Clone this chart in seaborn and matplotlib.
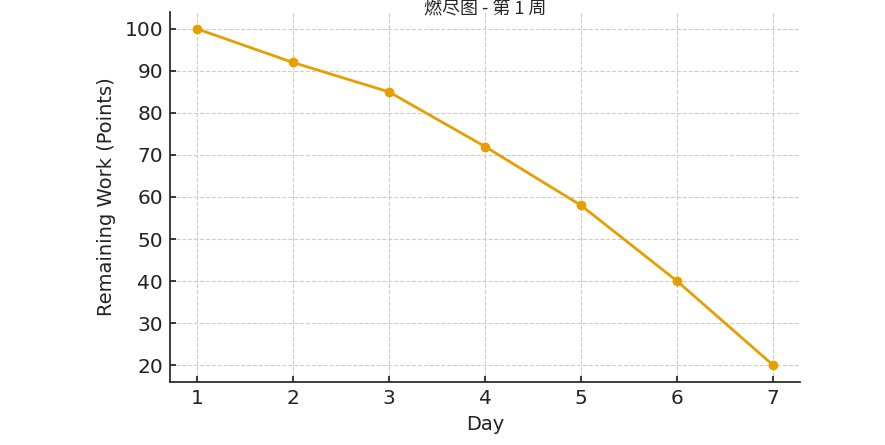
import seaborn as sns
import pandas as pd
import matplotlib.pyplot as plt

# burndown data
days = [1, 2, 3, 4, 5, 6, 7]
remaining = [100, 92, 85, 72, 58, 40, 20]
title = "燃尽图 - 第 1 周"

sns.set_theme(style="ticks")
plt.rcParams['font.family'] = ['DejaVu Sans', 'Noto Sans CJK SC']

df = pd.DataFrame({"Day": days, "Remaining": remaining})

fig = plt.figure(figsize=(8.85, 4.45), dpi=100)
ax = fig.add_axes([170 / 885, 63 / 445, 630 / 885, 370 / 445])
sns.lineplot(data=df, x="Day", y="Remaining", color="#E69F00", marker="o",
             markersize=7, markeredgewidth=0, linewidth=2, ax=ax)
ax.grid(True, linestyle="--", color="#cccccc", linewidth=0.8)
ax.set_xlim(0.72, 7.28)
ax.set_ylim(16, 104)
ax.set_yticks(range(20, 101, 10))
ax.set_xticks(days)
ax.tick_params(labelsize=14.5, colors="#222222", direction="in", length=4, pad=5)
ax.set_xlabel("Day", fontsize=14, color="#222222", labelpad=5)
ax.set_ylabel("Remaining Work (Points)", fontsize=14, color="#222222", labelpad=6)
for s in ["top", "right"]:
    ax.spines[s].set_visible(False)
fig.text(485 / 885, 1.0, title, ha="center", va="top", fontsize=13,
         family=['Noto Sans CJK SC', 'DejaVu Sans'])

fig.savefig("out.png", dpi=100)
